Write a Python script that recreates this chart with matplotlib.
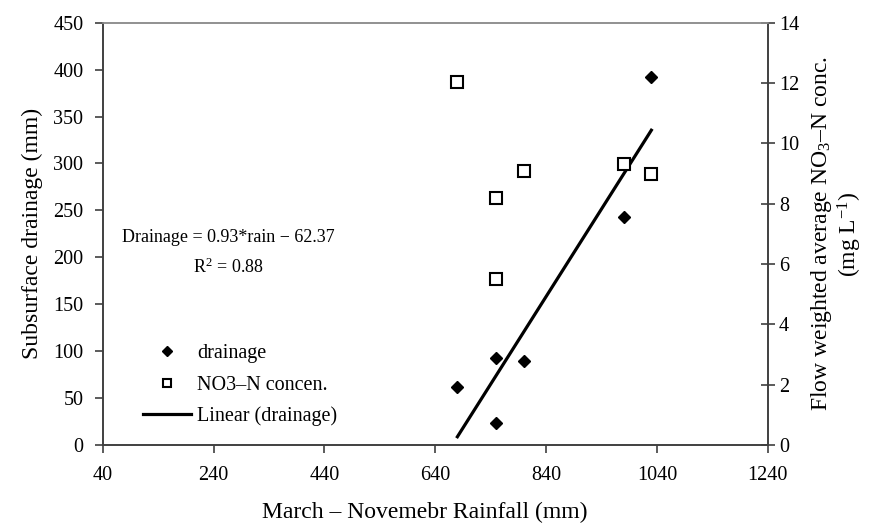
import numpy as np
import matplotlib
matplotlib.use("Agg")
import matplotlib.pyplot as plt

plt.rcParams['font.family'] = ['Liberation Serif', 'DejaVu Serif']
plt.rcParams['mathtext.fontset'] = 'custom'
plt.rcParams['mathtext.rm'] = 'Liberation Serif'
plt.rcParams['mathtext.it'] = 'Liberation Serif:italic'

# rainfall (mm) vs drainage (mm) and NO3-N conc (mg/L)
rain = [680, 750, 750, 800, 980, 1030]
drainage = [62, 93, 23, 89, 243, 392]
no3_rain = [680, 750, 750, 800, 980, 1030]
no3_conc = [12.05, 8.2, 5.5, 9.08, 9.33, 8.98]

x_ticks = [40, 240, 440, 640, 840, 1040, 1240]
y_ticks = [0, 50, 100, 150, 200, 250, 300, 350, 400, 450]
y2_ticks = [0, 2, 4, 6, 8, 10, 12, 14]

fs = 14.5      # tick labels, legend
fs_t = 17      # axis titles
fs_a = 13      # equation
axc = '#404040'

fig = plt.figure(figsize=(8.75, 5.27), dpi=100)
ax = fig.add_axes([0.1174, 0.1556, 0.76, 0.8013])
ax2 = ax.twinx()

# linear trend of drainage
slope, icpt = np.polyfit(rain, drainage, 1)
xl = np.array([min(rain), max(rain)])
ax.plot(xl, slope * xl + icpt, color='black', lw=2.3, label='Linear (drainage)', zorder=3)

ax.plot(rain, drainage, linestyle='none', marker='D', ms=6.5, color='black',
        label='drainage', zorder=4)
ax2.plot(no3_rain, no3_conc, linestyle='none', marker='s', ms=8, mfc='white',
         mec='black', mew=1.5, label='NO3\u2013N concen.', zorder=4)

ax.set_xlim(40, 1240)
ax.set_ylim(0, 450)
ax2.set_ylim(0, 14)
ax.set_xticks(x_ticks)
ax.set_yticks(y_ticks)
ax2.set_yticks(y2_ticks)

ax.tick_params(axis='x', direction='out', length=6, width=1.2, color=axc, labelsize=fs, pad=9)
ax.tick_params(axis='y', direction='out', length=6, width=1.2, color=axc, labelsize=fs, pad=8)
ax2.tick_params(axis='y', direction='inout', length=10, width=1.2, color=axc, labelsize=fs, pad=3)

for a in (ax, ax2):
    for s in a.spines.values():
        s.set_color(axc)
        s.set_linewidth(1.2)
    a.spines['top'].set_color('#909090')

ax.set_xlabel('March \u2013 Novemebr Rainfall (mm)', fontsize=fs_t, labelpad=9)
ax.xaxis.set_label_coords(0.485, -0.135)
ax.set_ylabel('Subsurface drainage (mm)', fontsize=fs_t, labelpad=7)
ax2.set_ylabel('Flow weighted average NO$_3$\u2013N conc.\n(mg L$^{-1}$)', fontsize=fs_t,
               labelpad=7, linespacing=1.1)

ax.text(266, 221, 'Drainage = 0.93*rain \u2212 62.37', fontsize=fs_a, ha='center', va='center')
ax.text(266, 189, 'R$^2$ = 0.88', fontsize=fs_a, ha='center', va='center')

h1, l1 = ax.get_legend_handles_labels()
h2, l2 = ax2.get_legend_handles_labels()
handles = [h1[1], h2[0], h1[0]]
labels = [l1[1], l2[0], l1[0]]
ax.legend(handles, labels, loc='lower left', bbox_to_anchor=(0.045, 0.02), frameon=False,
          fontsize=fs, handlelength=2.4, handletextpad=0.3, labelspacing=0.6,
          markerscale=0.8, borderpad=0)

fig.savefig('out.png', dpi=100)
